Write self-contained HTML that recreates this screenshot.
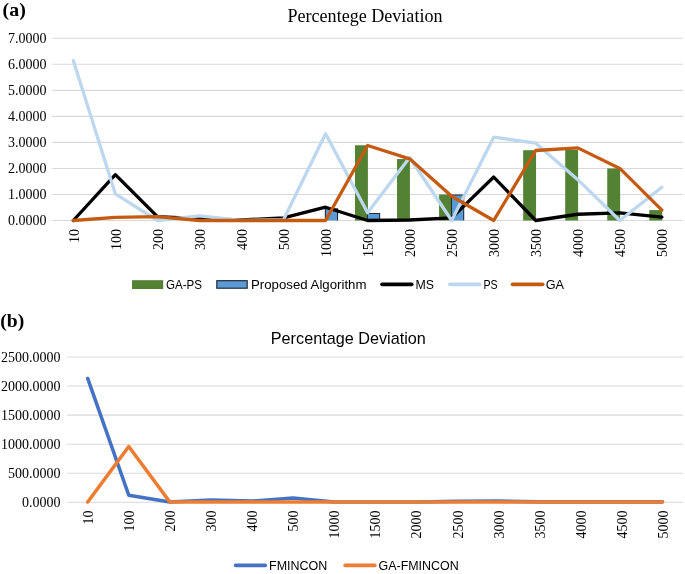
<!DOCTYPE html><html><head><meta charset="utf-8"><style>html,body{margin:0;padding:0;background:#fff;overflow:hidden}svg{display:block;will-change:transform}</style></head><body>
<svg width="685" height="574" viewBox="0 0 685 574">
<rect width="685" height="574" fill="#fff"/>
<text x="2.6" y="16.2" font-family='"Liberation Serif", serif' font-weight="bold" font-size="19.5" textLength="23.2" lengthAdjust="spacingAndGlyphs" fill="#000">(a)</text>
<text x="365" y="22.1" text-anchor="middle" font-family='"Liberation Serif", serif' font-size="18" textLength="155" lengthAdjust="spacingAndGlyphs" fill="#000">Percentege Deviation</text>
<line x1="52.3" x2="682.9" y1="220.50" y2="220.50" stroke="#d9d9d9" stroke-width="1.1"/>
<text x="46.6" y="225.30" text-anchor="end" font-family='"Liberation Serif", serif' font-size="14" fill="#000">0.0000</text>
<line x1="52.3" x2="682.9" y1="194.47" y2="194.47" stroke="#d9d9d9" stroke-width="1.1"/>
<text x="46.6" y="199.27" text-anchor="end" font-family='"Liberation Serif", serif' font-size="14" fill="#000">1.0000</text>
<line x1="52.3" x2="682.9" y1="168.44" y2="168.44" stroke="#d9d9d9" stroke-width="1.1"/>
<text x="46.6" y="173.24" text-anchor="end" font-family='"Liberation Serif", serif' font-size="14" fill="#000">2.0000</text>
<line x1="52.3" x2="682.9" y1="142.41" y2="142.41" stroke="#d9d9d9" stroke-width="1.1"/>
<text x="46.6" y="147.21" text-anchor="end" font-family='"Liberation Serif", serif' font-size="14" fill="#000">3.0000</text>
<line x1="52.3" x2="682.9" y1="116.38" y2="116.38" stroke="#d9d9d9" stroke-width="1.1"/>
<text x="46.6" y="121.18" text-anchor="end" font-family='"Liberation Serif", serif' font-size="14" fill="#000">4.0000</text>
<line x1="52.3" x2="682.9" y1="90.35" y2="90.35" stroke="#d9d9d9" stroke-width="1.1"/>
<text x="46.6" y="95.15" text-anchor="end" font-family='"Liberation Serif", serif' font-size="14" fill="#000">5.0000</text>
<line x1="52.3" x2="682.9" y1="64.32" y2="64.32" stroke="#d9d9d9" stroke-width="1.1"/>
<text x="46.6" y="69.12" text-anchor="end" font-family='"Liberation Serif", serif' font-size="14" fill="#000">6.0000</text>
<line x1="52.3" x2="682.9" y1="38.29" y2="38.29" stroke="#d9d9d9" stroke-width="1.1"/>
<text x="46.6" y="43.09" text-anchor="end" font-family='"Liberation Serif", serif' font-size="14" fill="#000">7.0000</text>
<text transform="translate(78.82,229.0) rotate(-90)" text-anchor="end" font-family='"Liberation Serif", serif' font-size="14" fill="#000">10</text>
<text transform="translate(120.86,229.0) rotate(-90)" text-anchor="end" font-family='"Liberation Serif", serif' font-size="14" fill="#000">100</text>
<text transform="translate(162.90,229.0) rotate(-90)" text-anchor="end" font-family='"Liberation Serif", serif' font-size="14" fill="#000">200</text>
<text transform="translate(204.94,229.0) rotate(-90)" text-anchor="end" font-family='"Liberation Serif", serif' font-size="14" fill="#000">300</text>
<text transform="translate(246.98,229.0) rotate(-90)" text-anchor="end" font-family='"Liberation Serif", serif' font-size="14" fill="#000">400</text>
<text transform="translate(289.02,229.0) rotate(-90)" text-anchor="end" font-family='"Liberation Serif", serif' font-size="14" fill="#000">500</text>
<text transform="translate(331.06,229.0) rotate(-90)" text-anchor="end" font-family='"Liberation Serif", serif' font-size="14" fill="#000">1000</text>
<text transform="translate(373.10,229.0) rotate(-90)" text-anchor="end" font-family='"Liberation Serif", serif' font-size="14" fill="#000">1500</text>
<text transform="translate(415.14,229.0) rotate(-90)" text-anchor="end" font-family='"Liberation Serif", serif' font-size="14" fill="#000">2000</text>
<text transform="translate(457.18,229.0) rotate(-90)" text-anchor="end" font-family='"Liberation Serif", serif' font-size="14" fill="#000">2500</text>
<text transform="translate(499.22,229.0) rotate(-90)" text-anchor="end" font-family='"Liberation Serif", serif' font-size="14" fill="#000">3000</text>
<text transform="translate(541.26,229.0) rotate(-90)" text-anchor="end" font-family='"Liberation Serif", serif' font-size="14" fill="#000">3500</text>
<text transform="translate(583.30,229.0) rotate(-90)" text-anchor="end" font-family='"Liberation Serif", serif' font-size="14" fill="#000">4000</text>
<text transform="translate(625.34,229.0) rotate(-90)" text-anchor="end" font-family='"Liberation Serif", serif' font-size="14" fill="#000">4500</text>
<text transform="translate(667.38,229.0) rotate(-90)" text-anchor="end" font-family='"Liberation Serif", serif' font-size="14" fill="#000">5000</text>
<rect x="325.36" y="208.77" width="12.20" height="11.73" fill="#5b9bd5"/>
<path d="M325.36,220.50 V208.77 H337.56 V220.50" fill="none" stroke="#1f2b3a" stroke-width="1.1"/>
<rect x="355.00" y="145.27" width="12.9" height="75.23" fill="#548235"/>
<rect x="367.40" y="213.45" width="12.20" height="7.05" fill="#5b9bd5"/>
<path d="M367.40,220.50 V213.45 H379.60 V220.50" fill="none" stroke="#1f2b3a" stroke-width="1.1"/>
<rect x="397.04" y="159.07" width="12.9" height="61.43" fill="#548235"/>
<rect x="439.08" y="194.47" width="12.9" height="26.03" fill="#548235"/>
<rect x="451.48" y="194.97" width="12.20" height="25.53" fill="#5b9bd5"/>
<path d="M451.48,220.50 V194.97 H463.68 V220.50" fill="none" stroke="#1f2b3a" stroke-width="1.1"/>
<rect x="523.16" y="150.22" width="12.9" height="70.28" fill="#548235"/>
<rect x="565.20" y="149.96" width="12.9" height="70.54" fill="#548235"/>
<rect x="607.24" y="168.44" width="12.9" height="52.06" fill="#548235"/>
<rect x="649.28" y="210.09" width="12.9" height="10.41" fill="#548235"/>
<polyline points="73.32,220.50 115.36,174.69 157.40,216.60 199.44,218.68 241.48,219.98 283.52,217.90 325.56,207.22 367.60,220.50 409.64,219.98 451.68,217.90 493.72,177.03 535.76,220.50 577.80,214.25 619.84,212.95 661.88,217.12" fill="none" stroke="#000000" stroke-width="3.3" stroke-linejoin="round" stroke-linecap="round"/>
<polyline points="73.32,60.55 115.36,193.95 157.40,220.50 199.44,215.81 241.48,220.50 283.52,219.72 325.56,133.82 367.60,212.69 409.64,157.51 451.68,220.50 493.72,137.20 535.76,143.19 577.80,179.63 619.84,220.50 661.88,187.18" fill="none" stroke="#bdd7ee" stroke-width="3.3" stroke-linejoin="round" stroke-linecap="round"/>
<polyline points="73.32,220.50 115.36,217.38 157.40,216.60 199.44,220.50 241.48,220.50 283.52,220.50 325.56,220.50 367.60,145.53 409.64,158.81 451.68,196.29 493.72,220.50 535.76,150.48 577.80,147.88 619.84,168.44 661.88,210.09" fill="none" stroke="#c55a11" stroke-width="3.3" stroke-linejoin="round" stroke-linecap="round"/>
<rect x="132" y="280.2" width="31.2" height="8.8" fill="#548235"/>
<text x="166" y="288.7" font-family='"Liberation Sans", sans-serif' font-size="12.5" textLength="36" lengthAdjust="spacingAndGlyphs" fill="#000">GA-PS</text>
<rect x="216.8" y="280.7" width="30.4" height="7.5" fill="#5b9bd5" stroke="#1f2b3a" stroke-width="1.2"/>
<text x="251" y="288.8" font-family='"Liberation Sans", sans-serif' font-size="12.8" textLength="115.5" lengthAdjust="spacingAndGlyphs" fill="#000">Proposed Algorithm</text>
<line x1="382.1" x2="411.7" y1="284.3" y2="284.3" stroke="#000000" stroke-width="3.7" stroke-linecap="round"/>
<text x="415.6" y="288.8" font-family='"Liberation Sans", sans-serif' font-size="12.8" textLength="18.5" lengthAdjust="spacingAndGlyphs" fill="#000">MS</text>
<line x1="449.9" x2="479.6" y1="284.3" y2="284.3" stroke="#bdd7ee" stroke-width="3.7" stroke-linecap="round"/>
<text x="483.4" y="288.8" font-family='"Liberation Sans", sans-serif' font-size="12.8" textLength="14.2" lengthAdjust="spacingAndGlyphs" fill="#000">PS</text>
<line x1="512.6" x2="542.6" y1="284.3" y2="284.3" stroke="#c55a11" stroke-width="3.7" stroke-linecap="round"/>
<text x="545.7" y="288.8" font-family='"Liberation Sans", sans-serif' font-size="12.8" textLength="18.3" lengthAdjust="spacingAndGlyphs" fill="#000">GA</text>
<text x="0.3" y="327" font-family='"Liberation Serif", serif' font-weight="bold" font-size="19.5" textLength="24" lengthAdjust="spacingAndGlyphs" fill="#000">(b)</text>
<text x="348.3" y="343.5" text-anchor="middle" font-family='"Liberation Sans", sans-serif' font-size="16.1" textLength="155" lengthAdjust="spacingAndGlyphs" fill="#000">Percentage Deviation</text>
<line x1="67.2" x2="683.0" y1="502.30" y2="502.30" stroke="#d9d9d9" stroke-width="1.1"/>
<text x="60.5" y="507.10" text-anchor="end" font-family='"Liberation Serif", serif' font-size="14" fill="#000">0.0000</text>
<line x1="67.2" x2="683.0" y1="473.24" y2="473.24" stroke="#d9d9d9" stroke-width="1.1"/>
<text x="60.5" y="478.04" text-anchor="end" font-family='"Liberation Serif", serif' font-size="14" fill="#000">500.0000</text>
<line x1="67.2" x2="683.0" y1="444.18" y2="444.18" stroke="#d9d9d9" stroke-width="1.1"/>
<text x="60.5" y="448.98" text-anchor="end" font-family='"Liberation Serif", serif' font-size="14" fill="#000">1000.0000</text>
<line x1="67.2" x2="683.0" y1="415.12" y2="415.12" stroke="#d9d9d9" stroke-width="1.1"/>
<text x="60.5" y="419.92" text-anchor="end" font-family='"Liberation Serif", serif' font-size="14" fill="#000">1500.0000</text>
<line x1="67.2" x2="683.0" y1="386.06" y2="386.06" stroke="#d9d9d9" stroke-width="1.1"/>
<text x="60.5" y="390.86" text-anchor="end" font-family='"Liberation Serif", serif' font-size="14" fill="#000">2000.0000</text>
<line x1="67.2" x2="683.0" y1="357.00" y2="357.00" stroke="#d9d9d9" stroke-width="1.1"/>
<text x="60.5" y="361.80" text-anchor="end" font-family='"Liberation Serif", serif' font-size="14" fill="#000">2500.0000</text>
<text transform="translate(93.03,510.6) rotate(-90)" text-anchor="end" font-family='"Liberation Serif", serif' font-size="14" fill="#000">10</text>
<text transform="translate(134.08,510.6) rotate(-90)" text-anchor="end" font-family='"Liberation Serif", serif' font-size="14" fill="#000">100</text>
<text transform="translate(175.13,510.6) rotate(-90)" text-anchor="end" font-family='"Liberation Serif", serif' font-size="14" fill="#000">200</text>
<text transform="translate(216.19,510.6) rotate(-90)" text-anchor="end" font-family='"Liberation Serif", serif' font-size="14" fill="#000">300</text>
<text transform="translate(257.24,510.6) rotate(-90)" text-anchor="end" font-family='"Liberation Serif", serif' font-size="14" fill="#000">400</text>
<text transform="translate(298.29,510.6) rotate(-90)" text-anchor="end" font-family='"Liberation Serif", serif' font-size="14" fill="#000">500</text>
<text transform="translate(339.35,510.6) rotate(-90)" text-anchor="end" font-family='"Liberation Serif", serif' font-size="14" fill="#000">1000</text>
<text transform="translate(380.40,510.6) rotate(-90)" text-anchor="end" font-family='"Liberation Serif", serif' font-size="14" fill="#000">1500</text>
<text transform="translate(421.45,510.6) rotate(-90)" text-anchor="end" font-family='"Liberation Serif", serif' font-size="14" fill="#000">2000</text>
<text transform="translate(462.51,510.6) rotate(-90)" text-anchor="end" font-family='"Liberation Serif", serif' font-size="14" fill="#000">2500</text>
<text transform="translate(503.56,510.6) rotate(-90)" text-anchor="end" font-family='"Liberation Serif", serif' font-size="14" fill="#000">3000</text>
<text transform="translate(544.61,510.6) rotate(-90)" text-anchor="end" font-family='"Liberation Serif", serif' font-size="14" fill="#000">3500</text>
<text transform="translate(585.67,510.6) rotate(-90)" text-anchor="end" font-family='"Liberation Serif", serif' font-size="14" fill="#000">4000</text>
<text transform="translate(626.72,510.6) rotate(-90)" text-anchor="end" font-family='"Liberation Serif", serif' font-size="14" fill="#000">4500</text>
<text transform="translate(667.77,510.6) rotate(-90)" text-anchor="end" font-family='"Liberation Serif", serif' font-size="14" fill="#000">5000</text>
<polyline points="87.73,378.50 128.78,495.26 169.83,502.00 210.89,499.97 251.94,501.13 292.99,497.93 334.05,502.00 375.10,502.00 416.15,502.00 457.21,501.30 498.26,501.13 539.31,501.83 580.37,501.83 621.42,501.83 662.47,501.83" fill="none" stroke="#4472c4" stroke-width="3.6" stroke-linejoin="round" stroke-linecap="round"/>
<polyline points="87.73,502.00 128.78,446.55 169.83,502.00 210.89,502.00 251.94,502.00 292.99,502.00 334.05,502.00 375.10,502.00 416.15,502.00 457.21,502.00 498.26,502.00 539.31,502.00 580.37,502.00 621.42,502.00 662.47,502.00" fill="none" stroke="#ed7d31" stroke-width="3.6" stroke-linejoin="round" stroke-linecap="round"/>
<line x1="235.6" x2="265.3" y1="565.4" y2="565.4" stroke="#4472c4" stroke-width="3.6" stroke-linecap="round"/>
<text x="269" y="569.6" font-family='"Liberation Sans", sans-serif' font-size="12" textLength="58.3" lengthAdjust="spacingAndGlyphs" fill="#000">FMINCON</text>
<line x1="345.1" x2="374.9" y1="565.4" y2="565.4" stroke="#ed7d31" stroke-width="3.6" stroke-linecap="round"/>
<text x="378.5" y="569.6" font-family='"Liberation Sans", sans-serif' font-size="12" textLength="80.2" lengthAdjust="spacingAndGlyphs" fill="#000">GA-FMINCON</text>
</svg></body></html>
